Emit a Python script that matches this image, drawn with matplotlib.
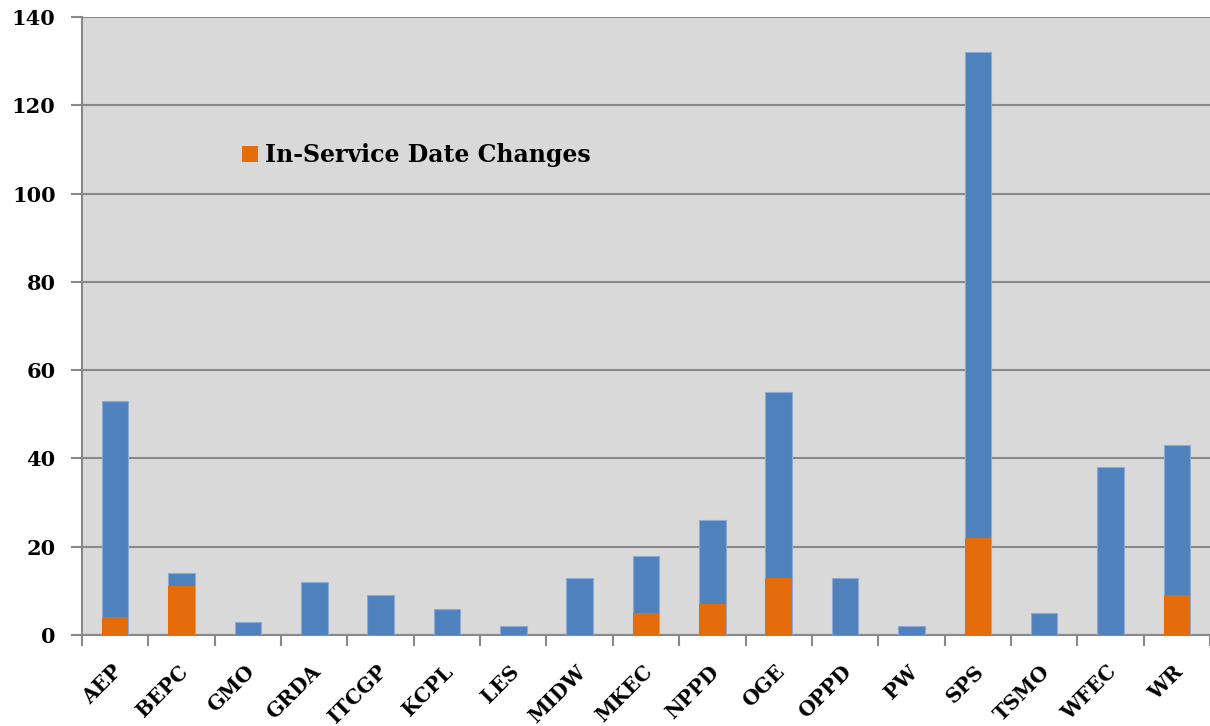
import numpy as np
import matplotlib.pyplot as plt
from matplotlib.transforms import ScaledTranslation

# data
utilities = ['AEP', 'BEPC', 'GMO', 'GRDA', 'ITCGP', 'KCPL', 'LES', 'MIDW', 'MKEC',
             'NPPD', 'OGE', 'OPPD', 'PW', 'SPS', 'TSMO', 'WFEC', 'WR']
total_projects = [53, 14, 3, 12, 9, 6, 2, 13, 18, 26, 55, 13, 2, 132, 5, 38, 43]
date_changes = [4, 11, 0, 0, 0, 0, 0, 0, 5, 7, 13, 0, 0, 22, 0, 0, 9]
y_ticks = [0, 20, 40, 60, 80, 100, 120, 140]

blue = '#4F81BD'
orange = '#E46C0A'
grid_c = '#898989'

plt.rcParams['font.family'] = ['DejaVu Serif']
plt.rcParams['font.weight'] = 'bold'

fig = plt.figure(figsize=(12.1, 7.26), dpi=100)
ax = fig.add_axes([0.0678, 0.1253, 0.9322, 0.8513])
ax.set_facecolor('#D9D9D9')

x = np.arange(len(utilities))
w = 0.4
ax.bar(x, total_projects, width=w, color=blue, edgecolor='#8FAAD2', linewidth=0.8, zorder=3)
ax.bar(x, date_changes, width=w, color=orange, edgecolor='none', zorder=4,
       label='In-Service Date Changes')

ax.set_xlim(-0.5, len(utilities) - 0.5)
ax.set_ylim(0, 140)
ax.set_yticks(y_ticks)
ax.yaxis.grid(True, color=grid_c, linewidth=1.5, zorder=1)
ax.set_axisbelow(True)

ax.set_xticks(x)
ax.set_xticklabels(utilities, rotation=45, ha='right', rotation_mode='anchor',
                   fontsize=14.5, fontweight='bold')
ax.set_xticks(np.arange(-0.5, len(utilities)), minor=True)
ax.tick_params(axis='x', which='major', length=0, pad=19)
ax.tick_params(axis='x', which='minor', length=8, width=1.5, color=grid_c)
ax.tick_params(axis='y', length=8, width=1.5, color=grid_c, labelsize=15, pad=11)
for lbl in ax.get_yticklabels():
    lbl.set_fontweight('bold')
shift = ScaledTranslation(-4 / 100, 0, fig.dpi_scale_trans)
for lbl in ax.get_xticklabels():
    lbl.set_transform(lbl.get_transform() + shift)

for s in ['top', 'right']:
    ax.spines[s].set_visible(False)
ax.spines['left'].set_color(grid_c)
ax.spines['left'].set_linewidth(1.5)
ax.spines['bottom'].set_color(grid_c)
ax.spines['bottom'].set_linewidth(1.5)

handles, labels = ax.get_legend_handles_labels()
ax.legend([handles[-1]], [labels[-1]], loc='upper left', bbox_to_anchor=(0.1226, 0.83),
          frameon=False, handlelength=0.7, handleheight=0.7,
          handletextpad=0.3, prop={'weight': 'bold', 'size': 17})

fig.savefig('out.png', dpi=100)
